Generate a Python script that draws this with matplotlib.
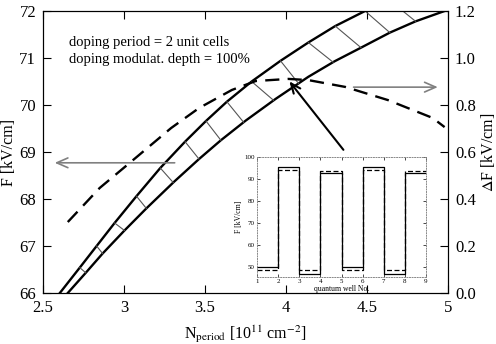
import matplotlib
matplotlib.use("Agg")
import matplotlib.pyplot as plt

plt.rcParams['font.family'] = ['Liberation Serif', 'DejaVu Serif']
plt.rcParams['mathtext.fontset'] = 'stix'

# Upper boundary of the F band (N, F)
n_upper = [2.604, 2.727, 2.831, 2.942, 3.077, 3.224, 3.377, 3.506, 3.635, 3.788, 3.966, 4.138, 4.304, 4.488]
f_upper = [66.00, 66.54, 67.00, 67.49, 68.06, 68.66, 69.22, 69.66, 70.07, 70.50, 70.94, 71.33, 71.68, 72.00]
# Lower boundary of the F band
n_lower = [2.653, 2.764, 2.868, 3.003, 3.138, 3.310, 3.463, 3.598, 3.752, 3.936, 4.138, 4.300, 4.463, 4.641, 4.800, 4.979]
f_lower = [66.00, 66.43, 66.84, 67.33, 67.80, 68.37, 68.85, 69.25, 69.67, 70.13, 70.60, 70.93, 71.22, 71.54, 71.78, 72.00]
# Hatch connectors between boundaries
hatch_n0 = [2.727, 2.831, 2.942, 3.077, 3.224, 3.377, 3.506, 3.635, 3.788, 3.966, 4.138, 4.304, 4.488, 4.721]
hatch_f0 = [66.54, 67.00, 67.49, 68.06, 68.66, 69.22, 69.66, 70.07, 70.50, 70.94, 71.33, 71.68, 72.00, 72.00]
hatch_n1 = [2.764, 2.868, 3.003, 3.138, 3.304, 3.463, 3.598, 3.739, 3.923, 4.077, 4.291, 4.463, 4.641, 4.800]
hatch_f1 = [66.43, 66.84, 67.33, 67.80, 68.35, 68.85, 69.25, 69.63, 70.10, 70.46, 70.91, 71.22, 71.54, 71.78]
# Delta F (right axis)
n_dF = [2.653, 2.850, 3.034, 3.291, 3.463, 3.666, 3.813, 4.015, 4.138, 4.365, 4.629, 4.905, 4.979]
dF = [0.302, 0.447, 0.553, 0.702, 0.787, 0.864, 0.902, 0.911, 0.906, 0.877, 0.821, 0.745, 0.706]

# Inset: field per quantum well
wells = [1, 2, 3, 4, 5, 6, 7, 8, 9]
f_well_solid = [49.9, 95.3, 46.8, 92.9, 49.9, 95.3, 46.8, 92.9, 92.9]
f_well_dashed = [48.6, 94.1, 48.6, 93.8, 48.6, 94.1, 48.6, 93.8, 93.8]

fig = plt.figure(figsize=(4.96, 3.44), dpi=100)
ax = fig.add_axes([43/496, 1-293/344, (448-43)/496, (293-11)/344])
ax.set_xlim(2.5, 5)
ax.set_ylim(66, 72)
ax.set_xticks([2.5, 3, 3.5, 4, 4.5, 5])
ax.set_xticklabels(['2.5', '3', '3.5', '4', '4.5', '5'])
ax.set_yticks([66, 67, 68, 69, 70, 71, 72])
ax.tick_params(direction='in', length=6, width=0.8, labelsize=12, top=True, right=False, pad=5)
ax.set_ylabel('F [kV/cm]', fontsize=11.5)
ax.yaxis.set_label_coords(-0.063, 0.5)
ax.set_xlabel(r'N$_{\mathrm{period}}$ [10$^{11}$ cm$^{-2}$]', fontsize=11.5)
ax.xaxis.set_label_coords(0.5, -0.11)

ax.plot(n_upper, f_upper, color='black', lw=1.7)
ax.plot(n_lower, f_lower, color='black', lw=1.7)
for a, b, c, d in zip(hatch_n0, hatch_f0, hatch_n1, hatch_f1):
    ax.plot([a, c], [b, d], color='#555555', lw=0.8)

ax2 = ax.twinx()
ax2.set_ylim(0, 1.2)
ax2.set_yticks([0.0, 0.2, 0.4, 0.6, 0.8, 1.0, 1.2])
ax2.set_yticklabels(['0.0', '0.2', '0.4', '0.6', '0.8', '1.0', '1.2'])
ax2.tick_params(direction='in', length=6, width=0.8, labelsize=12, pad=5)
ax2.set_ylabel(r'$\Delta$F [kV/cm]', fontsize=11.5, rotation=90)
ax2.yaxis.set_label_coords(1.077, 0.5)
ax2.plot(n_dF, dF, color='black', lw=1.7, dashes=(6, 3.5))

ax.text(2.66, 71.33, 'doping period = 2 unit cells', fontsize=10.5, va='center')
ax.text(2.66, 70.97, 'doping modulat. depth = 100%', fontsize=10.5, va='center')

ax.annotate('', xy=(2.555, 68.77), xytext=(3.33, 68.77),
            arrowprops=dict(arrowstyle='->,head_length=0.8,head_width=0.35', color='#808080', lw=1.2))
ax.annotate('', xy=(4.954, 70.38), xytext=(4.40, 70.38),
            arrowprops=dict(arrowstyle='->,head_length=0.8,head_width=0.35', color='#808080', lw=1.2))
ax.annotate('', xy=(4.01, 70.55), xytext=(4.365, 69.0),
            arrowprops=dict(arrowstyle='->,head_length=0.7,head_width=0.3', color='black', lw=1.5))

# inset
axi = fig.add_axes([257/496, 1-277/344, (426-257)/496, (277-157)/344])
axi.set_xlim(1, 9)
axi.set_ylim(45.5, 100)
axi.step(wells, f_well_solid, where='post', color='black', lw=0.9)
axi.step(wells, f_well_dashed, where='post', color='black', lw=0.9, dashes=(4, 2))
axi.set_xticks(wells)
axi.set_yticks([50, 60, 70, 80, 90, 100])
axi.tick_params(direction='in', length=2.5, width=0.5, labelsize=5, pad=1.5, top=True, right=True)
for s in axi.spines.values():
    s.set_color('#888888')
    s.set_linestyle(':')
    s.set_linewidth(0.7)
axi.set_xlabel('quantum well No.', fontsize=5.5, labelpad=0.5)
axi.set_ylabel('F [kV/cm]', fontsize=5.5, labelpad=1)

fig.savefig('out.png', dpi=100)
